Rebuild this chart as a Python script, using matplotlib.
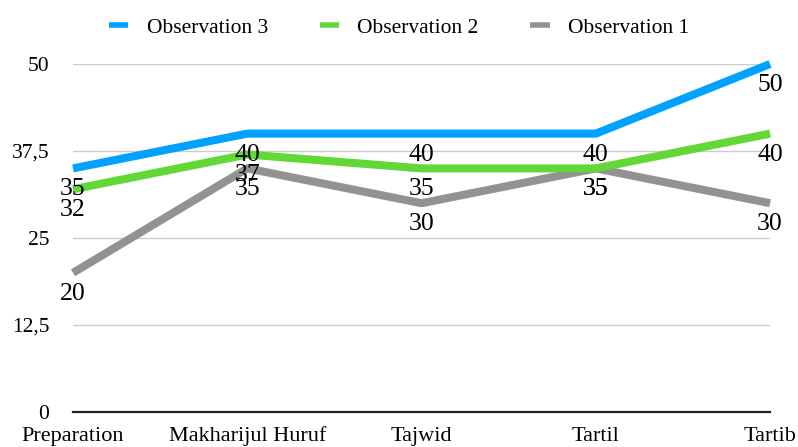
import matplotlib
matplotlib.use('Agg')
import matplotlib.pyplot as plt

categories = ['Preparation', 'Makharijul Huruf', 'Tajwid', 'Tartil', 'Tartib']
obs3 = [35, 40, 40, 40, 50]
obs2 = [32, 37, 35, 35, 40]
obs1 = [20, 35, 30, 35, 30]
yticks = [0, 12.5, 25, 37.5, 50]
ytick_labels = ['0', '12,5', '25', '37,5', '50']

plt.rcParams['font.family'] = ['Liberation Serif', 'DejaVu Serif']

fig = plt.figure(figsize=(7.98, 4.47), dpi=100)
ax = fig.add_axes([0.0915, 0.0783, 0.8735, 0.7785])

x = list(range(len(categories)))
series = [
    ('Observation 1', obs1, '#929292'),
    ('Observation 2', obs2, '#61D836'),
    ('Observation 3', obs3, '#00A2FF'),
]
handles = {}
for name, vals, col in series:
    line, = ax.plot(x, vals, color=col, lw=5.8, solid_joinstyle='miter',
                    solid_capstyle='butt', clip_on=False, zorder=3)
    handles[name] = line
    for xi, v in zip(x, vals):
        ax.annotate(str(v), (xi, v), xytext=(0, -21), textcoords='offset pixels',
                    ha='center', va='center', fontsize=18.5, color='black', zorder=5,
                    annotation_clip=False)

ax.set_xlim(0, 4)
ax.set_ylim(0, 50)
ax.set_yticks(yticks)
ax.set_yticklabels(ytick_labels, fontsize=15.5)
ax.set_xticks(x)
ax.set_xticklabels(categories, fontsize=16)
ax.tick_params(axis='y', length=0, pad=17)
ax.tick_params(axis='x', length=0, pad=10.5)
ax.grid(axis='y', color='#CCCCCC', lw=1)
ax.set_axisbelow(True)
for s in ['top', 'right', 'left']:
    ax.spines[s].set_visible(False)
ax.spines['bottom'].set_color('#222222')
ax.spines['bottom'].set_linewidth(1.6)
ax.spines['bottom'].set_zorder(4)

names = ['Observation 3', 'Observation 2', 'Observation 1']
leg = fig.legend([handles[n] for n in names], names, loc='center', bbox_to_anchor=(0.5, 0.938),
                 ncol=3, frameon=False, fontsize=15.5, handlelength=0.9,
                 columnspacing=2.4, handletextpad=0.85)
for h in leg.legend_handles:
    h.set_linewidth(4.0)

fig.savefig('out.png', dpi=100)
